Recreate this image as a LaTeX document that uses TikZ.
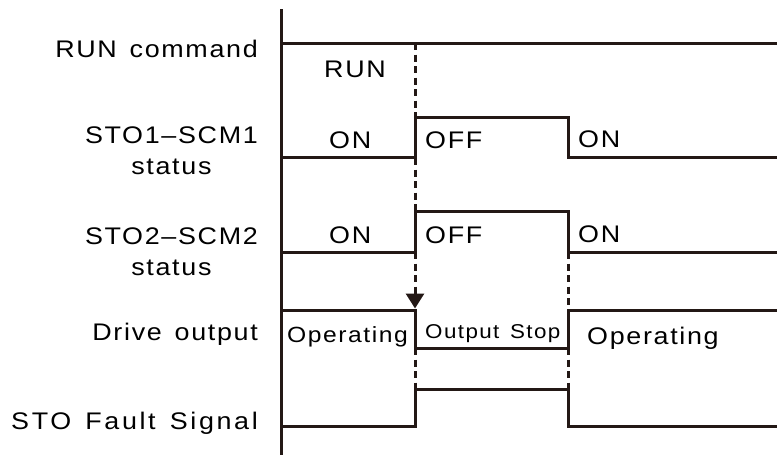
\documentclass[tikz,border=0pt]{standalone}
\usepackage{fontspec}
\setmainfont{Liberation Sans}
\newfontfamily\lbl[FakeStretch=1.12,LetterSpace=7,WordSpace=1.4]{Liberation Sans}
\newfontfamily\lblwide[FakeStretch=1.12,LetterSpace=11,WordSpace=1.4]{Liberation Sans}
\usetikzlibrary{arrows.meta}
\definecolor{ink}{RGB}{35,24,21}
\tikzset{
  wave/.style={draw=ink,line width=3pt,line join=miter},
  dashv/.style={draw=ink,line width=3pt,dash pattern=on 7pt off 4.5pt},
  axisline/.style={draw=ink,line width=3pt},
  lab/.style={inner sep=0pt,text=black,font=\lbl\fontsize{24}{31}\selectfont,align=center},
  sig/.style={inner sep=0pt,text=black,font=\lbl\fontsize{24}{29}\selectfont},
}
\begin{document}
\begin{tikzpicture}[x=1pt,y=-1pt]
\useasboundingbox (0,0) rectangle (777,455);
% time coordinates
\coordinate (t1) at (415,0);
% axis
\coordinate (axTop) at (281,9);
\coordinate (axBot) at (281,455);
\draw[axisline] (axTop) -- (axBot);
% labels
\node[lab,anchor=base east] (lRun) at (258,57) {RUN command};
\node[lab,anchor=base east] (lS1) at (258,174) {STO1–SCM1\\status};
\node[lab,anchor=base east] (lS2) at (258,275) {STO2–SCM2\\status};
\node[lab,anchor=base east] (lDrv) at (258,340) {Drive output};
\node[lab,anchor=base east,font=\lblwide\fontsize{24}{31}\selectfont] (lFlt) at (258,429) {STO Fault Signal};
% RUN command
\coordinate (r0) at (281,43);
\coordinate (r1) at (777,43);
\draw[wave] (r0) -- (r1);
\node[sig,anchor=base west] (tRun) at (324,77) {RUN};
% STO1
\coordinate (a0) at (281,157);
\coordinate (a1) at (415,157);
\coordinate (a2) at (415,117);
\coordinate (a3) at (568,117);
\coordinate (a4) at (568,157);
\coordinate (a5) at (777,157);
\draw[wave] (a0) -- (a1) -- (a2) -- (a3) -- (a4) -- (a5);
\node[sig,anchor=base west] (on1a) at (329,148) {ON};
\node[sig,anchor=base west] (off1) at (425,148) {OFF};
\node[sig,anchor=base west] (on1b) at (578,147) {ON};
% STO2
\coordinate (b0) at (281,252);
\coordinate (b1) at (415,252);
\coordinate (b2) at (415,211);
\coordinate (b3) at (568,211);
\coordinate (b4) at (568,252);
\coordinate (b5) at (777,252);
\draw[wave] (b0) -- (b1) -- (b2) -- (b3) -- (b4) -- (b5);
\node[sig,anchor=base west] (on2a) at (329,243) {ON};
\node[sig,anchor=base west] (off2) at (425,243) {OFF};
\node[sig,anchor=base west] (on2b) at (578,242) {ON};
% Drive output
\coordinate (c0) at (281,310);
\coordinate (c1) at (415,310);
\coordinate (c2) at (415,348);
\coordinate (c3) at (568,348);
\coordinate (c4) at (568,310);
\coordinate (c5) at (777,310);
\draw[wave] (c0) -- (c1) -- (c2) -- (c3) -- (c4) -- (c5);
\node[sig,anchor=base west,font=\lbl\fontsize{22}{26}\selectfont] (op1) at (287,342) {Operating};
\node[sig,anchor=base west,font=\lbl\fontsize{20}{24}\selectfont] (ostop) at (425,338) {Output Stop};
\node[sig,anchor=base west] (op2) at (587,344) {Operating};
% Fault signal
\coordinate (d0) at (281,426);
\coordinate (d1) at (415,426);
\coordinate (d2) at (415,389);
\coordinate (d3) at (568,389);
\coordinate (d4) at (568,426);
\coordinate (d5) at (777,426);
\draw[wave] (d0) -- (d1) -- (d2) -- (d3) -- (d4) -- (d5);
% dashed guides
\draw[dashv] (r0 -| t1) -- (b1);
\draw[dashv,shorten >=1.5pt,-{Triangle[width=18pt,length=15pt]}] (b1) -- (c1);
\draw[dashv] (c2) -- (d2);
\draw[dashv] (b4) -- (c4);
\draw[dashv] (c3) -- (d3);
\end{tikzpicture}
\end{document}
